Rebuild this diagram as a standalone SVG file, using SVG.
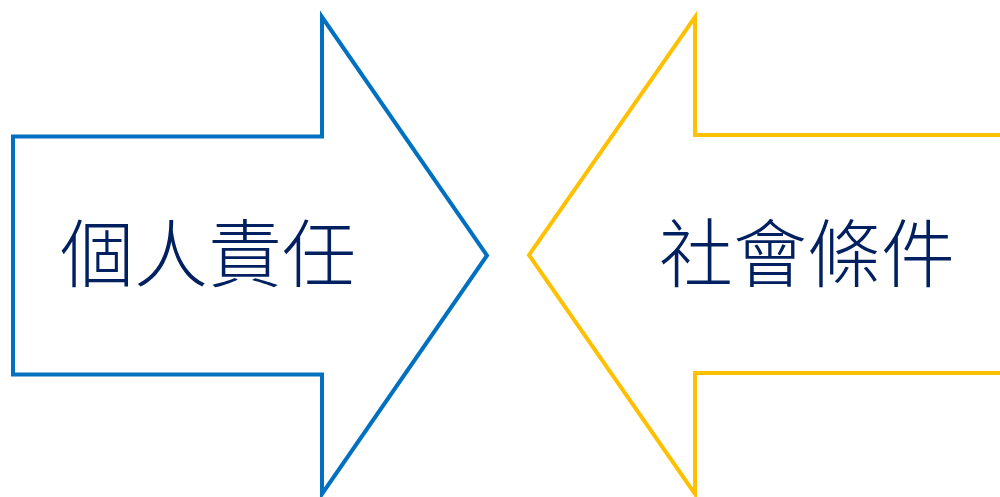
<svg xmlns="http://www.w3.org/2000/svg" width="1000" height="497" viewBox="0 0 1000 497">
<style>
.arrow{fill:#FFFFFF;stroke-width:4;stroke-linejoin:miter;stroke-miterlimit:10}
.lbl{font-family:"Liberation Serif","Noto Sans CJK TC",serif;font-size:74px;font-weight:300;fill:#002060;text-anchor:middle}
</style>
<rect width="1000" height="497" fill="#FFFFFF"/>
<g id="personal">
<path class="arrow" stroke="#0070C0" d="M13,136.5 H322 V17 L487,255.5 L322,494 V374.5 H13 Z"/>
<text class="lbl" x="208" y="281">個人責任</text>
</g>
<g id="social">
<path class="arrow" stroke="#FFC000" d="M1004,135 H695 V17 L529,255 L695,494 V373 H1004"/>
<text class="lbl" x="807" y="281">社會條件</text>
</g>
<g id="connectors"></g>
</svg>
